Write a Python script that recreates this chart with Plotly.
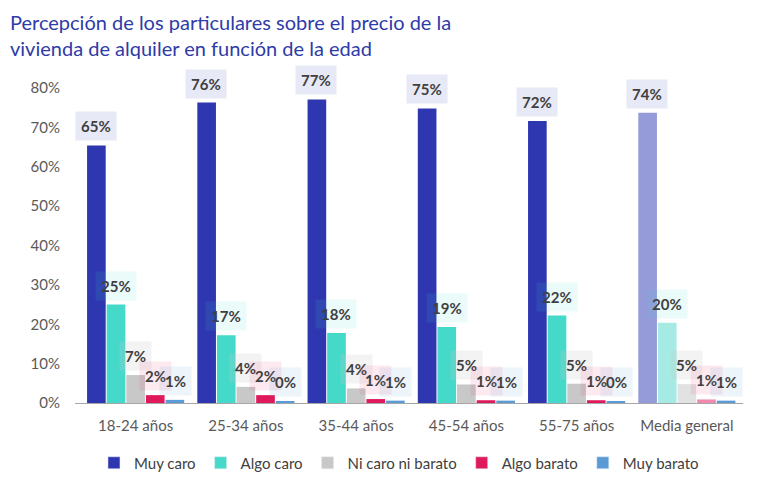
import plotly.graph_objects as go

# --- DATA ---
categories = ["18-24 años", "25-34 años", "35-44 años", "45-54 años", "55-75 años", "Media general"]
series_names = ["Muy caro", "Algo caro", "Ni caro ni barato", "Algo barato", "Muy barato"]
muy_caro = [0.654, 0.763, 0.771, 0.748, 0.716, 0.737]
algo_caro = [0.250, 0.172, 0.178, 0.193, 0.222, 0.204]
ni_caro = [0.071, 0.041, 0.037, 0.047, 0.049, 0.048]
algo_barato = [0.020, 0.020, 0.010, 0.007, 0.007, 0.009]
muy_barato = [0.008, 0.004, 0.006, 0.006, 0.004, 0.006]
y_ticks = [0, 0.1, 0.2, 0.3, 0.4, 0.5, 0.6, 0.7, 0.8]

series_values = [muy_caro, algo_caro, ni_caro, algo_barato, muy_barato]

TITLE = "Percepción de los particulares sobre el precio de la<br>vivienda de alquiler en función de la edad"

# --- STYLE ---
FONT = "Lato"
base_colors = ["#2E37B0", "#45D9C9", "#C8C8C8", "#E0185C", "#5B9BD5"]
light_colors = ["#959AD9", "#A6EBE3", "#E2E2E2", "#EE8AAC", "#5B9BD5"]
label_bg = [
    "rgba(46,55,176,0.11)",
    "rgba(69,217,201,0.11)",
    "rgba(200,200,200,0.22)",
    "rgba(224,24,92,0.09)",
    "rgba(91,155,213,0.11)",
]

# the page body adds an 8px margin; keep the figure inside the window
W, H = 752, 470
M_L, M_R, M_T, M_B = 67, 17, 80, 75
plot_w = W - M_L - M_R
plot_h = H - M_T - M_B
BARGAP = 0.11
slot_px = plot_w / len(categories) * (1 - BARGAP) / len(series_names)

fig = go.Figure()

for i, (name, vals) in enumerate(zip(series_names, series_values)):
    colors = [base_colors[i]] * (len(categories) - 1) + [light_colors[i]]
    fig.add_trace(
        go.Bar(
            x=categories,
            y=vals,
            name=name,
            marker=dict(color=colors, line=dict(width=0)),
            legendgroup=name,
            offsetgroup=name,
            showlegend=False,
        )
    )
    # legend swatch in the base colour
    fig.add_trace(
        go.Bar(
            x=[None],
            y=[None],
            name=name,
            marker=dict(color=base_colors[i]),
            legendgroup=name,
            offsetgroup=name,
        )
    )

# value labels with tinted boxes
annotations = []
for i, vals in enumerate(series_values):
    for cat, v in zip(categories, vals):
        annotations.append(
            dict(
                x=cat,
                y=v,
                xref="x",
                yref="y",
                text="<b>%d%%</b>" % round(v * 100),
                showarrow=False,
                xanchor="center",
                yanchor="bottom",
                xshift=(i - 2) * slot_px,
                yshift=4,
                bgcolor=label_bg[i],
                borderpad=5,
                font=dict(family=FONT, size=15, color="#404040"),
            )
        )

annotations.append(
    dict(
        x=0 - M_L / plot_w,
        y=1 + M_T / plot_h,
        xref="paper",
        yref="paper",
        xanchor="left",
        yanchor="top",
        align="left",
        showarrow=False,
        text=TITLE,
        font=dict(family=FONT, size=20, color="#2E3BA8"),
    )
)

fig.update_layout(
    width=W,
    height=H,
    margin=dict(l=M_L, r=M_R, t=M_T, b=M_B, autoexpand=False),
    paper_bgcolor="white",
    plot_bgcolor="white",
    barmode="group",
    bargap=BARGAP,
    bargroupgap=0.05,
    font=dict(family=FONT, color="#595959"),
    xaxis=dict(
        showline=True,
        linecolor="#A6A6A6",
        linewidth=1,
        ticks="",
        ticklabelstandoff=9,
        automargin=False,
        tickfont=dict(size=15, color="#595959"),
    ),
    yaxis=dict(
        range=[0, 0.8],
        tickvals=y_ticks,
        tickformat=".0%",
        showgrid=False,
        zeroline=False,
        ticks="",
        ticklabelstandoff=14,
        automargin=False,
        tickfont=dict(size=15, color="#595959"),
    ),
    legend=dict(
        orientation="h",
        x=0.485,
        xanchor="center",
        y=-60 / plot_h,
        yanchor="middle",
        font=dict(size=15, color="#404040"),
        traceorder="normal",
        itemwidth=30,
    ),
    annotations=annotations,
)

fig.write_html("out.html")
